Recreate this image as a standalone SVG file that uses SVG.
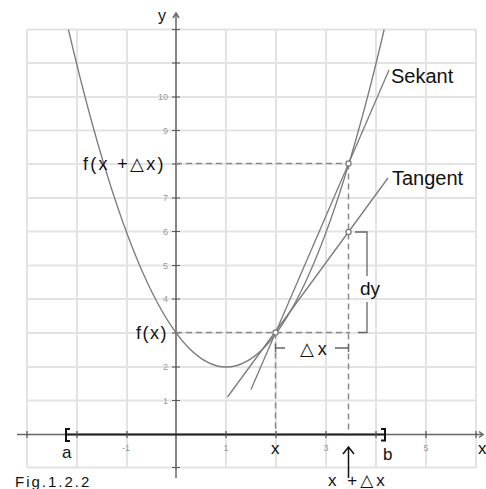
<svg xmlns="http://www.w3.org/2000/svg" width="486" height="489" viewBox="0 0 486 489">
<style>
.grid{stroke:#e3e3e3;stroke-width:2;fill:none}
.axis{stroke:#666;stroke-width:1.5;fill:none}
.tick{stroke:#555;stroke-width:1.2}
.curve{stroke:#7a7a7a;stroke-width:1.3;fill:none}
.dash{stroke:#8a8a8a;stroke-width:1.5;stroke-dasharray:6 4;fill:none}
.brk{stroke:#666;stroke-width:1.3;fill:none}
.pt{fill:#fff;stroke:#777;stroke-width:1.2}
.lbl{font-family:"Liberation Sans","DejaVu Sans",sans-serif;fill:#111}
.num{font-family:"Liberation Sans",sans-serif;font-size:9px;fill:#999}
</style>
<rect width="486" height="489" fill="#fff"/>
<g id="grid">
<path class="grid" d="M27 29.5V467.5M77 29.5V467.5M127 29.5V467.5M176 29.5V467.5M226 29.5V467.5M276 29.5V467.5M326 29.5V467.5M376 29.5V467.5M426 29.5V467.5M476 29.5V467.5"/>
<path class="grid" d="M27 29.5H476M27 63H476M27 97H476M27 130.5H476M27 164H476M27 198H476M27 231.5H476M27 265.5H476M27 299H476M27 333H476M27 367H476M27 400.5H476M27 467.5H476"/>
</g>
<g id="axes">
<path class="axis" d="M176 15V478"/>
<path class="axis" d="M173 18L176 13L179 18"/>
<path class="axis" d="M17 434.5H483"/>
<path class="axis" d="M479 431.5L483 434.5L479 437.5"/>
<path stroke="#222" stroke-width="2" d="M66 434.5H385"/>
<path class="tick" d="M27 431V438M77 431V438M127 431V438M226 431V438M276 431V438M326 431V438M376 431V438M426 431V438M476 431V438"/>
<path class="tick" d="M172 29.5H180M172 63H180M172 97H180M172 130.5H180M172 164H180M172 198H180M172 231.5H180M172 265.5H180M172 299H180M172 333H180M172 367H180M172 400.5H180M172 467.5H180"/>
<path stroke="#111" stroke-width="2" fill="none" d="M70 429H66V441H70"/>
<path stroke="#111" stroke-width="2" fill="none" d="M381 429H385V440.5H381"/>
</g>
<g id="ticklabels">
<text class="num" x="168" y="100" text-anchor="end">10</text>
<text class="num" x="168" y="133.5" text-anchor="end">9</text>
<text class="num" x="168" y="201" text-anchor="end">7</text>
<text class="num" x="168" y="234.5" text-anchor="end">6</text>
<text class="num" x="168" y="268.5" text-anchor="end">5</text>
<text class="num" x="168" y="302" text-anchor="end">4</text>
<text class="num" x="168" y="370" text-anchor="end">2</text>
<text class="num" x="168" y="403.5" text-anchor="end">1</text>
<text class="num" x="126" y="451" text-anchor="middle">-1</text>
<text class="num" x="226" y="451" text-anchor="middle">1</text>
<text class="num" x="326" y="451" text-anchor="middle">3</text>
<text class="num" x="426" y="451" text-anchor="middle">5</text>
</g>
<g id="connectors">
<path class="dash" d="M176 163.5H348.5"/>
<path class="dash" d="M176 332.5H350"/>
<path class="dash" d="M275.5 332.5V434"/>
<path class="dash" d="M348.5 163.5V434"/>
<path class="brk" d="M355 232H367V276M367 302V332.5H358"/>
<path class="brk" d="M275.5 344V352M275.5 348H285M335 348H348.5M348.5 344V352"/>
<path stroke="#111" stroke-width="1.5" fill="none" d="M348.5 478V447M343 454L348.5 447L354 454"/>
</g>
<g id="parabola">
<path class="curve" d="M68.4 29.5Q226.3 704.5 384.2 29.5"/>
</g>
<g id="secant">
<path class="curve" d="M251 389.5L389 70"/>
</g>
<g id="tangent">
<path class="curve" d="M227.5 397L388 178"/>
</g>
<g id="points">
<circle class="pt" cx="275.5" cy="332.5" r="2.6"/>
<circle class="pt" cx="348.5" cy="163.5" r="2.6"/>
<circle class="pt" cx="348.5" cy="232" r="2.6"/>
</g>
<g id="labels">
<text class="lbl" x="158" y="21" font-size="16">y</text>
<text class="lbl" x="478" y="454" font-size="17">x</text>
<text class="lbl" x="391" y="83" font-size="20">Sekant</text>
<text class="lbl" x="392" y="185" font-size="20">Tangent</text>
<text class="lbl" x="83" y="170" font-size="18" letter-spacing="2.3">f(x +△x)</text>
<text class="lbl" x="136" y="339" font-size="18" letter-spacing="1.5">f(x)</text>
<text class="lbl" x="360" y="295" font-size="19">dy</text>
<text class="lbl" x="300" y="355" font-size="18" letter-spacing="4">△x</text>
<text class="lbl" x="271" y="454" font-size="17">x</text>
<text class="lbl" x="62" y="458" font-size="17">a</text>
<text class="lbl" x="383" y="460" font-size="17">b</text>
<text class="lbl" x="328" y="486" font-size="17" letter-spacing="3">x +△x</text>
<text class="lbl" x="15" y="487" font-size="15" letter-spacing="2">Fig.1.2.2</text>
</g>
</svg>
